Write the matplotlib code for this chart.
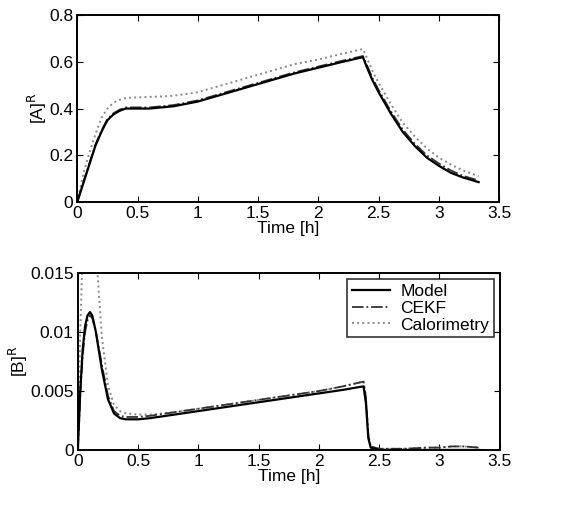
import matplotlib
matplotlib.use("Agg")
import matplotlib.pyplot as plt
import numpy as np

plt.rcParams['font.family'] = ['Liberation Sans', 'DejaVu Sans']

# ---- top panel data ([A]^R) ----
tA = [0, 0.05, 0.1, 0.15, 0.2, 0.25, 0.3, 0.35, 0.4, 0.5, 0.6, 0.7, 0.8, 0.9, 1.0,
      1.2, 1.4, 1.6, 1.8, 2.0, 2.2, 2.37, 2.4, 2.45, 2.5, 2.6, 2.7, 2.8, 2.9, 3.0,
      3.1, 3.2, 3.33]
A_model = [0, 0.08, 0.16, 0.24, 0.30, 0.35, 0.375, 0.39, 0.40, 0.40, 0.40, 0.405,
           0.41, 0.42, 0.43, 0.46, 0.49, 0.52, 0.55, 0.575, 0.60, 0.62, 0.58, 0.52,
           0.47, 0.38, 0.30, 0.24, 0.19, 0.155, 0.125, 0.105, 0.085]
A_cekf = [0, 0.085, 0.165, 0.245, 0.305, 0.355, 0.38, 0.395, 0.405, 0.405, 0.405,
          0.41, 0.415, 0.425, 0.435, 0.465, 0.495, 0.525, 0.555, 0.58, 0.605, 0.625,
          0.59, 0.53, 0.48, 0.39, 0.31, 0.25, 0.20, 0.165, 0.135, 0.112, 0.092]
A_cal = [0, 0.12, 0.21, 0.29, 0.36, 0.40, 0.425, 0.437, 0.445, 0.448, 0.45, 0.452,
         0.455, 0.462, 0.47, 0.50, 0.53, 0.56, 0.59, 0.61, 0.635, 0.655, 0.62, 0.56,
         0.51, 0.42, 0.34, 0.28, 0.23, 0.19, 0.16, 0.135, 0.11]

# ---- bottom panel data ([B]^R) ----
tB = [0, 0.02, 0.04, 0.06, 0.08, 0.1, 0.12, 0.15, 0.2, 0.25, 0.3, 0.35, 0.4, 0.5,
      0.6, 0.8, 1.0, 1.2, 1.4, 1.6, 1.8, 2.0, 2.2, 2.37, 2.39, 2.41, 2.43, 2.5,
      2.7, 2.9, 3.0, 3.1, 3.2, 3.33]
B_model = [0, 0.005, 0.0085, 0.0105, 0.0114, 0.0117, 0.0114, 0.0100, 0.0068,
           0.0043, 0.0031, 0.0027, 0.0026, 0.0026, 0.0027, 0.0030, 0.0033, 0.0036,
           0.0039, 0.0042, 0.0045, 0.0048, 0.0051, 0.0054, 0.0040, 0.0010, 0.0002,
           0.0, 0.0, 0.0, 0.0, 0.0, 0.0, 0.0]
B_cekf = [0, 0.0045, 0.008, 0.0100, 0.0110, 0.0114, 0.0112, 0.0100, 0.0072,
          0.0046, 0.0033, 0.0029, 0.0028, 0.0028, 0.0029, 0.0032, 0.0035, 0.0038,
          0.0041, 0.0044, 0.0047, 0.0050, 0.0054, 0.0058, 0.0045, 0.0012, 0.0003,
          0.0001, 0.0001, 0.0002, 0.0002, 0.0003, 0.0003, 0.0002]
B_cal = [0, 0.010, 0.017, 0.018, 0.018, 0.018, 0.018, 0.017, 0.0095, 0.0055,
         0.0038, 0.0033, 0.0031, 0.0030, 0.0030, 0.0032, 0.0035, 0.0038, 0.0041,
         0.0044, 0.0047, 0.0050, 0.0054, 0.0058, 0.0045, 0.0012, 0.0003, 0.0001,
         0.0001, 0.0002, 0.0002, 0.0003, 0.0003, 0.0002]

xticks = [0, 0.5, 1, 1.5, 2, 2.5, 3, 3.5]
xticklabels = ['0', '0.5', '1', '1.5', '2', '2.5', '3', '3.5']
A_ticks = [0, 0.2, 0.4, 0.6, 0.8]
A_ticklabels = ['0', '0.2', '0.4', '0.6', '0.8']
B_ticks = [0, 0.005, 0.01, 0.015]
B_ticklabels = ['0', '0.005', '0.01', '0.015']

fig = plt.figure(figsize=(5.64, 5.05), dpi=100)
ax1 = fig.add_axes([0.137, 0.600, 0.748, 0.370])
ax2 = fig.add_axes([0.138, 0.109, 0.748, 0.350])

fs = 12.5

def style(ax):
    ax.tick_params(direction='in', top=True, right=True, labelsize=fs, length=4,
                   width=0.8, pad=3)
    for s in ax.spines.values():
        s.set_linewidth(1.4)
    ax.set_xticks(xticks)
    ax.set_xticklabels(xticklabels)
    ax.set_xlim(0, 3.5)
    ax.set_xlabel('Time [h]', fontsize=fs, labelpad=0)

ax1.plot(tA, A_cal, color='#888888', linestyle=':', linewidth=1.4, label='Calorimetry')
ax1.plot(tA, A_cekf, color='#333333', linestyle='-.', linewidth=1.3, label='CEKF')
ax1.plot(tA, A_model, color='black', linestyle='-', linewidth=1.6, label='Model')
ax1.set_ylim(0, 0.8)
ax1.set_yticks(A_ticks)
ax1.set_yticklabels(A_ticklabels)
ax1.set_ylabel(r'[A]$^{\mathrm{R}}$', fontsize=fs, labelpad=0)
style(ax1)

l3, = ax2.plot(tB, B_cal, color='#888888', linestyle=':', linewidth=1.4, label='Calorimetry')
l2, = ax2.plot(tB, B_cekf, color='#333333', linestyle='-.', linewidth=1.3, label='CEKF')
l1, = ax2.plot(tB, B_model, color='black', linestyle='-', linewidth=1.6, label='Model')
ax2.set_ylim(0, 0.015)
ax2.set_yticks(B_ticks)
ax2.set_yticklabels(B_ticklabels)
ax2.set_ylabel(r'[B]$^{\mathrm{R}}$', fontsize=fs, labelpad=0)
style(ax2)
leg = ax2.legend(handles=[l1, l2, l3], loc='upper right', fontsize=fs,
                 frameon=True, fancybox=False, edgecolor='black',
                 borderaxespad=0.35, handlelength=2.2, labelspacing=0.1,
                 borderpad=0.25, handletextpad=0.6)
leg.get_frame().set_linewidth(1.2)

fig.savefig('out.png', dpi=100)
